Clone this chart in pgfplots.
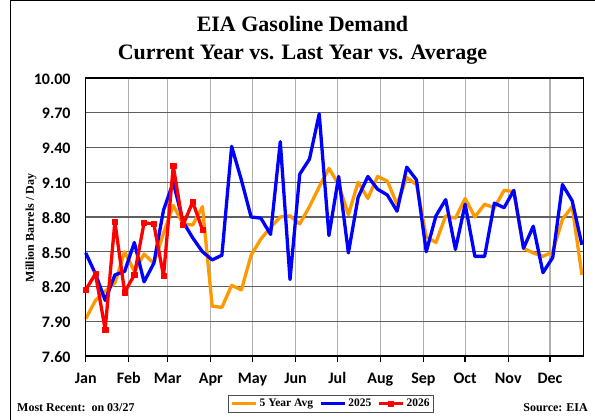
\documentclass[border=0pt]{standalone}
\usepackage{fontspec}
\setmainfont{Liberation Serif}
\newfontfamily\carlito{Carlito}
\usepackage{pgfplots}
\usepackage{pgfplotstable}
\pgfplotsset{compat=1.18}
\definecolor{avgor}{RGB}{255,153,0}
\definecolor{gridd}{RGB}{95,95,95}
\definecolor{gridl}{RGB}{175,175,175}

\pgfplotstableread{
x avg y25
0 7.92 8.49
7 8.08 8.31
14 8.16 8.08
21 8.23 8.30
28 8.50 8.33
35 8.33 8.58
42 8.48 8.24
49 8.40 8.40
56 8.66 8.86
63 8.90 9.10
70 8.74 8.76
77 8.73 8.62
84 8.89 8.50
91 8.03 8.43
98 8.02 8.47
105 8.21 9.41
112 8.17 9.12
119 8.47 8.80
126 8.61 8.79
133 8.71 8.65
140 8.80 9.45
147 8.81 8.26
154 8.74 9.17
161 8.89 9.30
168 9.06 9.69
175 9.22 8.64
182 9.08 9.15
189 8.82 8.49
196 9.10 8.97
203 8.96 9.15
210 9.15 9.04
217 9.11 8.99
224 8.91 8.85
231 9.14 9.23
238 9.08 9.12
245 8.63 8.50
252 8.58 8.81
259 8.81 8.95
266 8.79 8.52
273 8.96 8.91
280 8.80 8.46
287 8.91 8.46
294 8.88 8.92
301 9.03 8.88
308 9.02 9.03
315 8.53 8.53
322 8.49 8.72
329 8.46 8.32
336 8.50 8.45
343 8.78 9.08
350 8.89 8.94
357 8.30 8.56
}\tblA

\pgfplotstableread{
x y26
0 8.17
7 8.31
14 7.83
21 8.76
28 8.15
35 8.30
42 8.75
49 8.74
56 8.29
63 9.24
70 8.73
77 8.93
84 8.69
}\tblB

\begin{document}
\begin{tikzpicture}
\begin{axis}[
  at={(85.7pt,64pt)}, anchor=south west,
  scale only axis, width=497.6pt, height=278pt,
  xmin=0, xmax=358, ymin=7.6, ymax=10,
  xtick={0,31,59,90,120,151,181,212,243,273,304,334},
  ytick={7.6,7.9,8.2,8.5,8.8,9.1,9.4,9.7,10},
  xticklabels={Jan,Feb,Mar,Apr,May,Jun,Jul,Aug,Sep,Oct,Nov,Dec},
  yticklabels={7.60,7.90,8.20,8.50,8.80,9.10,9.40,9.70,10.00},
  major tick length=0pt, tick style={draw=none},
  axis line style={draw=none},
  clip=false,
  xticklabel style={font=\carlito\bfseries\fontsize{16}{18}\selectfont, anchor=base, inner sep=0pt, yshift=-28pt},
  yticklabel style={font=\carlito\bfseries\fontsize{16}{18}\selectfont, anchor=east, inner sep=0pt, xshift=-15pt, yshift=-1pt},
  legend columns=3,
  legend style={at={(0.493,-0.171)}, anchor=center, draw=black!70, line width=0.8pt,
    font=\bfseries\fontsize{11.5}{13}\selectfont, inner sep=2pt,
    /tikz/every even column/.append style={column sep=4pt}},
  legend image code/.code={\draw[mark repeat=2,mark phase=2,#1] plot coordinates {(0pt,0pt) (12pt,0pt) (24pt,0pt)};},
]
% grid lines
\pgfplotsinvokeforeach{31,59,90,120,151,181,212,243,273,304,334}{
  \addplot[gridl, line width=1.3pt, forget plot] coordinates {(#1,7.6) (#1,10)};
}
\pgfplotsinvokeforeach{7.9,8.2,8.5,8.8,9.1,9.4,9.7}{
  \addplot[gridd, line width=1.3pt, forget plot] coordinates {(0,#1) (358,#1)};
}
% data
\addplot[avgor, line width=3.3pt, line join=round] table[x=x, y=avg] {\tblA};
\addlegendentry{5 Year Avg}
\addplot[blue, line width=3.3pt, line join=round] table[x=x, y=y25] {\tblA};
\addlegendentry{2025}
\addplot[red, line width=3.3pt, line join=round, mark=square*, mark size=2.6pt, mark options={solid, line width=0.5pt}] table[x=x, y=y26] {\tblB};
\addlegendentry{2026}
% frame and outward x ticks
\addplot[black, line width=1.5pt, line cap=rect, line join=miter, forget plot] coordinates {(0,7.6) (358,7.6) (358,10) (0,10) (0,7.6)};
\pgfplotsinvokeforeach{0,31,59,90,120,151,181,212,243,273,304,334}{
  \addplot[black, line width=1.4pt, forget plot] coordinates {(#1,7.6) (#1,7.552)};
}
\end{axis}
\draw[line width=1pt] (10pt,0pt) -- (10pt,419.5pt) -- (596pt,419.5pt);
\node[anchor=base, font=\bfseries\fontsize{22}{26}\selectfont] at (302.5pt,388pt) {EIA Gasoline Demand};
\node[anchor=base, font=\bfseries\fontsize{22}{26}\selectfont] at (302.5pt,360pt) {Current Year vs. Last Year vs. Average};
\node[anchor=center, rotate=90, font=\bfseries\fontsize{12}{14}\selectfont] at (31pt,192pt) {Million Barrels / Day};
\node[anchor=base west, font=\bfseries\fontsize{12}{14}\selectfont, inner sep=0pt] at (17pt,8pt) {Most Recent:\ \ on 03/27};
\node[anchor=base east, font=\bfseries\fontsize{12}{14}\selectfont, inner sep=0pt] at (588pt,8pt) {Source: EIA};
\pgfresetboundingbox
\path (0pt,0pt) rectangle (595pt,420pt);
\end{tikzpicture}
\end{document}
